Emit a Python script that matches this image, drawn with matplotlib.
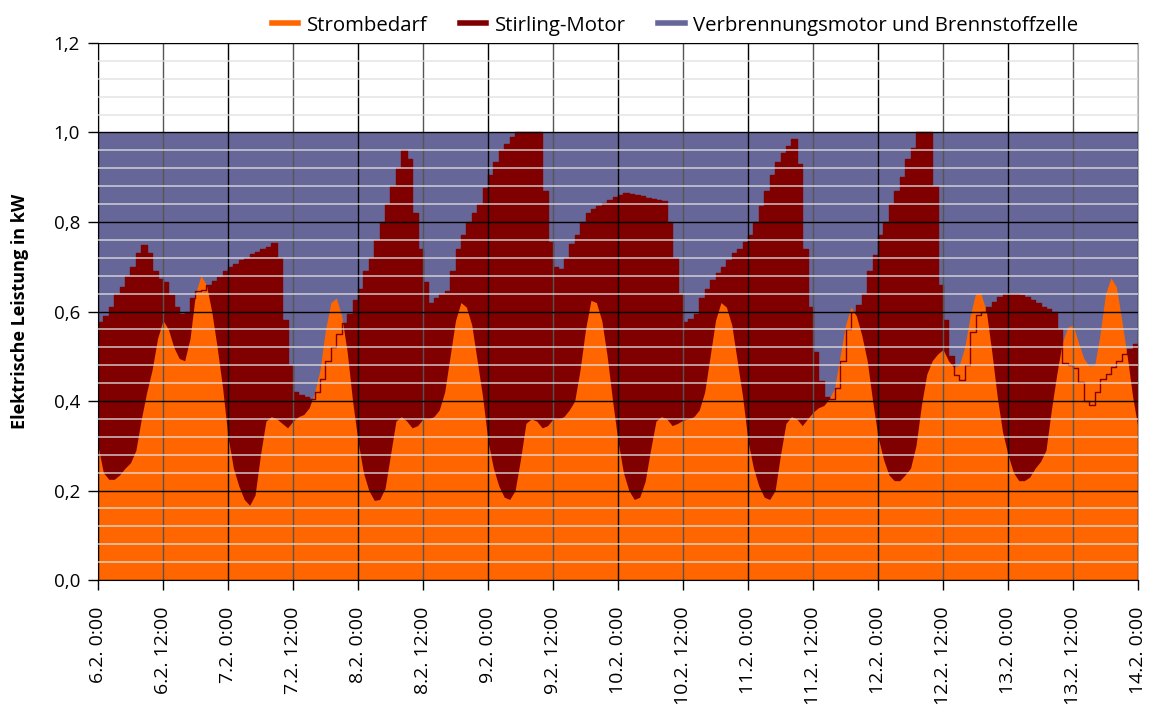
import matplotlib
matplotlib.use("Agg")
import matplotlib.pyplot as plt
from matplotlib.lines import Line2D
from matplotlib.ticker import MultipleLocator

plt.rcParams['font.family'] = ['Open Sans', 'DejaVu Sans']

# hours since 6.2. 0:00, hourly values
stunden = list(range(0, 193))

strombedarf = [
    0.30, 0.24, 0.225, 0.225, 0.235, 0.25, 0.262, 0.29, 0.36, 0.42, 0.47, 0.54,
    0.58, 0.56, 0.52, 0.495, 0.49, 0.54, 0.64, 0.68, 0.66, 0.60, 0.52, 0.43,
    0.32, 0.25, 0.21, 0.18, 0.167, 0.19, 0.28, 0.355, 0.365, 0.36, 0.35, 0.34,
    0.355, 0.365, 0.37, 0.385, 0.42, 0.47, 0.56, 0.62, 0.63, 0.59, 0.51, 0.40,
    0.31, 0.24, 0.20, 0.178, 0.18, 0.205, 0.28, 0.355, 0.365, 0.355, 0.34, 0.345,
    0.36, 0.36, 0.365, 0.38, 0.42, 0.50, 0.58, 0.62, 0.61, 0.57, 0.49, 0.41,
    0.31, 0.25, 0.21, 0.185, 0.18, 0.20, 0.27, 0.35, 0.36, 0.355, 0.34, 0.345,
    0.36, 0.36, 0.365, 0.38, 0.40, 0.47, 0.56, 0.625, 0.62, 0.58, 0.50, 0.40,
    0.31, 0.24, 0.20, 0.18, 0.185, 0.22, 0.29, 0.355, 0.365, 0.36, 0.345, 0.35,
    0.357, 0.36, 0.365, 0.38, 0.42, 0.50, 0.58, 0.62, 0.61, 0.57, 0.49, 0.41,
    0.31, 0.25, 0.21, 0.185, 0.18, 0.20, 0.28, 0.35, 0.365, 0.36, 0.345, 0.36,
    0.375, 0.385, 0.39, 0.405, 0.43, 0.50, 0.57, 0.61, 0.59, 0.547, 0.49, 0.40,
    0.32, 0.27, 0.235, 0.222, 0.222, 0.235, 0.25, 0.30, 0.39, 0.46, 0.49, 0.505,
    0.515, 0.49, 0.475, 0.48, 0.52, 0.59, 0.64, 0.64, 0.60, 0.51, 0.41, 0.33,
    0.28, 0.24, 0.222, 0.222, 0.23, 0.25, 0.265, 0.29, 0.38, 0.46, 0.53, 0.565,
    0.57, 0.53, 0.495, 0.478, 0.48, 0.55, 0.64, 0.675, 0.655, 0.58, 0.50, 0.41,
    0.34,
]

stirling = [
    0.577, 0.59, 0.61, 0.64, 0.655, 0.68, 0.70, 0.73, 0.748, 0.73, 0.69, 0.672,
    0.666, 0.636, 0.61, 0.595, 0.60, 0.63, 0.645, 0.648, 0.66, 0.668, 0.677, 0.69,
    0.70, 0.706, 0.715, 0.72, 0.728, 0.733, 0.74, 0.745, 0.752, 0.72, 0.58, 0.48,
    0.42, 0.413, 0.41, 0.405, 0.42, 0.45, 0.49, 0.52, 0.55, 0.575, 0.595, 0.625,
    0.65, 0.69, 0.72, 0.76, 0.80, 0.84, 0.88, 0.92, 0.96, 0.94, 0.82, 0.74,
    0.665, 0.62, 0.63, 0.64, 0.645, 0.69, 0.74, 0.77, 0.80, 0.82, 0.84, 0.875,
    0.905, 0.935, 0.96, 0.975, 0.99, 1.0, 1.0, 1.0, 1.0, 1.0, 0.87, 0.755,
    0.70, 0.696, 0.72, 0.75, 0.77, 0.80, 0.82, 0.83, 0.835, 0.842, 0.85, 0.855,
    0.86, 0.864, 0.862, 0.86, 0.857, 0.853, 0.851, 0.849, 0.846, 0.80, 0.72, 0.64,
    0.577, 0.584, 0.595, 0.63, 0.65, 0.67, 0.685, 0.70, 0.715, 0.73, 0.74, 0.756,
    0.77, 0.80, 0.835, 0.87, 0.905, 0.935, 0.955, 0.97, 0.985, 0.93, 0.74, 0.61,
    0.51, 0.445, 0.41, 0.405, 0.43, 0.49, 0.56, 0.60, 0.615, 0.64, 0.69, 0.726,
    0.77, 0.80, 0.84, 0.87, 0.90, 0.94, 0.965, 1.0, 1.0, 1.0, 0.88, 0.66,
    0.58, 0.50, 0.458, 0.447, 0.48, 0.555, 0.592, 0.60, 0.61, 0.622, 0.633, 0.638,
    0.64, 0.64, 0.636, 0.632, 0.625, 0.618, 0.61, 0.605, 0.60, 0.56, 0.484, 0.48,
    0.473, 0.443, 0.40, 0.39, 0.42, 0.45, 0.46, 0.476, 0.49, 0.505, 0.517, 0.528,
    0.53,
]

# Verbrennungsmotor + Brennstoffzelle fill the rest up to 1 kW
gesamt = [1.0] * len(stunden)

x_ticks = list(range(0, 193, 12))
x_labels = ["6.2. 0:00", "6.2. 12:00", "7.2. 0:00", "7.2. 12:00", "8.2. 0:00",
            "8.2. 12:00", "9.2. 0:00", "9.2. 12:00", "10.2. 0:00", "10.2. 12:00",
            "11.2. 0:00", "11.2. 12:00", "12.2. 0:00", "12.2. 12:00", "13.2. 0:00",
            "13.2. 12:00", "14.2. 0:00"]
y_ticks = [0.0, 0.2, 0.4, 0.6, 0.8, 1.0, 1.2]
y_labels = ["0,0", "0,2", "0,4", "0,6", "0,8", "1,0", "1,2"]

blau = "#666699"
rot = "#800000"
orange = "#ff6600"

fig = plt.figure(figsize=(11.5, 7.07), dpi=100)
ax = fig.add_axes([0.0852, 0.1796, 0.9044, 0.7596])

ax.fill_between(stunden, 0, gesamt, color=blau, lw=0, zorder=1)
ax.fill_between(stunden, 0, stirling, step="post", color=rot, lw=0, zorder=1.1)
ax.fill_between(stunden, 0, strombedarf, color=orange, lw=0, zorder=1.2)
ax.step(stunden, stirling, where="post", color=rot, lw=1.0, zorder=1.3)

ax.set_xlim(0, 192)
ax.set_ylim(0, 1.2)
ax.set_xticks(x_ticks)
ax.set_xticklabels(x_labels, rotation=90, fontsize=14)
ax.set_yticks(y_ticks)
ax.set_yticklabels(y_labels, fontsize=13.5)
ax.yaxis.set_minor_locator(MultipleLocator(0.04))
ax.tick_params(which="major", length=7, width=1, color="black", pad=6)
ax.tick_params(axis="x", pad=12)
ax.tick_params(which="minor", length=0)

ax.set_axisbelow(False)
ax.yaxis.grid(True, which="major", color="black", lw=1.0)
ax.yaxis.grid(True, which="minor", color=(0.88, 0.88, 0.88), alpha=0.8, lw=1.2)
ax.xaxis.grid(True, which="major", color="black", lw=1.0)
for i, gl in enumerate(ax.xaxis.get_gridlines()):
    if i % 2 == 1:
        gl.set_color("#555555")

for s in ["top", "right"]:
    ax.spines[s].set_color("#aaaaaa")
ax.spines["left"].set_color("black")
ax.spines["bottom"].set_color("black")

ax.set_ylabel("Elektrische Leistung in kW", fontsize=13, fontweight="bold", labelpad=18)

handles = [Line2D([], [], color=orange, lw=4),
           Line2D([], [], color=rot, lw=4),
           Line2D([], [], color=blau, lw=4)]
fig.legend(handles, ["Strombedarf", "Stirling-Motor", "Verbrennungsmotor und Brennstoffzelle"],
           loc="upper center", bbox_to_anchor=(0.587, 1.004), ncol=3, frameon=False,
           fontsize=14.7, handlelength=1.3, handletextpad=0.4, columnspacing=1.6)

fig.savefig("out.png", dpi=100)
